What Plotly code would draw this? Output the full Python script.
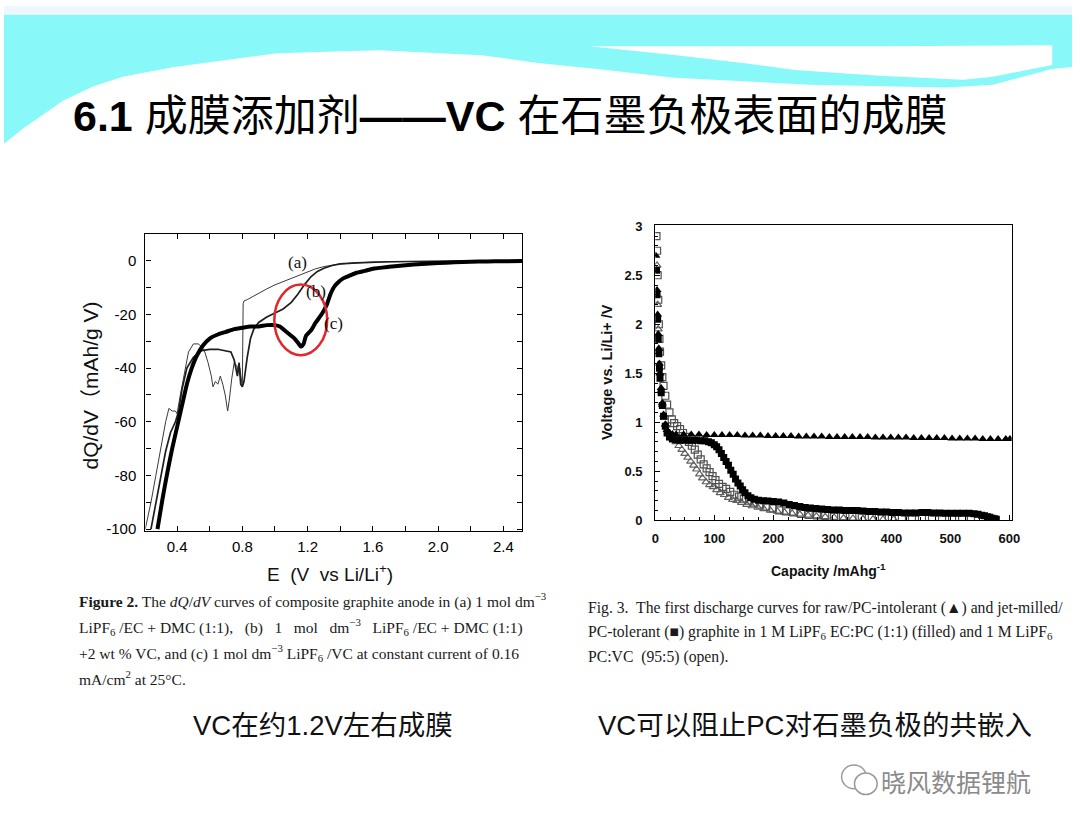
import plotly.graph_objects as go

W, H = 1080, 835

# ---------------- Left chart: dQ/dV curves ----------------
a_x = [0.205, 0.24, 0.27, 0.30, 0.33, 0.35, 0.37, 0.39, 0.40, 0.42, 0.44, 0.47, 0.50, 0.53,
       0.55, 0.57, 0.59, 0.61, 0.62, 0.635, 0.65, 0.665, 0.68, 0.695, 0.71, 0.72, 0.735,
       0.75, 0.765, 0.775, 0.785, 0.795, 0.80, 0.805, 0.81, 0.83, 0.86, 0.90, 0.95, 1.00,
       1.05, 1.10, 1.15, 1.20, 1.25, 1.30, 1.35, 1.40, 1.50, 1.60, 1.80, 2.00, 2.20, 2.52]
a_y = [-100, -90, -80, -70, -60, -55, -56, -56, -57, -50, -43, -34, -31, -31,
       -32, -34, -38, -43, -47, -45, -46, -43, -46, -50, -56, -52, -44,
       -38, -39, -41, -40, -44, -47, -16, -15, -14.5, -13.5, -12, -10.5, -9,
       -7.8, -6.5, -5.2, -4, -3, -2.2, -1.6, -1.2, -0.8, -0.5, -0.3, -0.2, -0.1, 0]

b_x = [0.24, 0.27, 0.30, 0.33, 0.36, 0.39, 0.41, 0.43, 0.46, 0.50, 0.55, 0.60, 0.65, 0.70,
       0.73, 0.75, 0.77, 0.78, 0.79, 0.80, 0.81, 0.83, 0.85, 0.87, 0.90, 0.95, 1.00, 1.05,
       1.10, 1.14, 1.18, 1.22, 1.26, 1.30, 1.35, 1.40, 1.50, 1.70, 2.00, 2.52]
b_y = [-100, -90, -80, -71, -64, -60, -56, -48, -40, -36, -33.5, -33, -33, -33.5,
       -34, -37, -43, -38, -46, -47, -45, -36, -29, -25.5, -23, -21, -19.5, -18,
       -15.5, -12.5, -9, -6, -4, -2.8, -1.8, -1.2, -0.8, -0.4, -0.2, 0]

c_x = [0.28, 0.31, 0.34, 0.37, 0.40, 0.43, 0.46, 0.49, 0.52, 0.56, 0.60, 0.65, 0.70, 0.75,
       0.80, 0.85, 0.90, 0.95, 1.00, 1.03, 1.06, 1.09, 1.12, 1.14, 1.16, 1.175, 1.19, 1.22,
       1.25, 1.28, 1.30, 1.32, 1.34, 1.36, 1.38, 1.42, 1.46, 1.50, 1.55, 1.60, 1.70, 1.80,
       1.90, 2.00, 2.10, 2.20, 2.30, 2.40, 2.52]
c_y = [-100, -89, -79, -70, -62, -54, -46, -40, -35.5, -31.5, -29, -27.5, -26.5, -25.5,
       -25, -24.5, -24.5, -24, -24, -24.5, -26, -27.5, -29, -30.5, -32, -31, -28, -26,
       -23, -20.5, -18.5, -16, -12.5, -10, -8.5, -6.5, -5.5, -4.5, -3.8, -3, -2.3, -1.7,
       -1.2, -0.9, -0.6, -0.4, -0.3, -0.2, -0.1]

left_xticks = [0.2, 0.4, 0.6, 0.8, 1.0, 1.2, 1.4, 1.6, 1.8, 2.0, 2.2, 2.4]
left_xtext = ["", "0.4", "", "0.8", "", "1.2", "", "1.6", "", "2.0", "", "2.4"]
left_yticks = [0, -10, -20, -30, -40, -50, -60, -70, -80, -90, -100]
left_ytext = ["0", "", "-20", "", "-40", "", "-60", "", "-80", "", "-100"]

curve_labels = ["(a)", "(b)", "(c)"]
curve_label_x = [1.14, 1.25, 1.36]
curve_label_y = [-0.5, -11.3, -23.5]

# ---------------- Right chart: first discharge curves ----------------
tri_f_x = [1, 2, 3, 4, 5, 6, 7, 8, 10, 12, 14, 17, 20, 24, 29,
           35, 48, 61, 74, 87, 100, 113, 126, 139, 152,
           165, 178, 191, 204, 217, 230, 243, 256, 269, 282,
           295, 308, 321, 334, 347, 360, 373, 386, 399, 412,
           425, 438, 451, 464, 477, 490, 503, 516, 529, 542,
           555, 568, 581, 594, 601]
tri_f_y = [2.7, 2.55, 2.35, 2.1, 1.9, 1.75, 1.6, 1.5, 1.35, 1.2, 1.08, 0.98, 0.92, 0.89, 0.88,
           0.875, 0.875, 0.875, 0.875, 0.87, 0.87, 0.87, 0.87, 0.87, 0.865,
           0.865, 0.865, 0.86, 0.86, 0.86, 0.86, 0.855, 0.855, 0.855, 0.855,
           0.85, 0.85, 0.85, 0.85, 0.85, 0.85, 0.845, 0.845, 0.845, 0.845,
           0.845, 0.84, 0.84, 0.84, 0.84, 0.84, 0.835, 0.835, 0.835, 0.835,
           0.83, 0.83, 0.83, 0.83, 0.83]

sq_f_x = [2, 3, 4, 5, 6, 7, 8, 10, 12, 14, 17, 20, 24, 29, 35, 42, 49, 56, 63, 70,
          77, 84, 90, 95, 100, 104, 108, 112, 116, 120, 124, 128, 132, 136, 140, 144,
          148, 152, 157, 162, 168, 175, 183, 191, 200, 209, 218, 227, 236, 245, 254,
          263, 272, 282, 292, 302, 312, 322, 332, 342, 352, 362, 372, 382, 392, 402,
          412, 422, 432, 442, 452, 462, 472, 482, 492, 502, 512, 522, 532, 540, 547,
          553, 558, 563, 567, 571, 575, 578]
sq_f_y = [2.55, 2.3, 2.05, 1.85, 1.7, 1.55, 1.45, 1.3, 1.17, 1.06, 0.96, 0.89, 0.85, 0.83,
          0.82, 0.815, 0.815, 0.815, 0.815, 0.815,
          0.81, 0.81, 0.8, 0.79, 0.77, 0.75, 0.72, 0.68, 0.64, 0.6, 0.56, 0.51, 0.47, 0.42,
          0.38, 0.35,
          0.31, 0.28, 0.25, 0.23, 0.215, 0.205, 0.2, 0.195, 0.19, 0.185, 0.175, 0.16, 0.15,
          0.14, 0.13,
          0.125, 0.12, 0.115, 0.11, 0.105, 0.105, 0.1, 0.1, 0.1, 0.095, 0.09, 0.09, 0.085,
          0.085, 0.08,
          0.08, 0.075, 0.075, 0.075, 0.08, 0.08, 0.075, 0.075, 0.07, 0.07, 0.07, 0.07, 0.07,
          0.065, 0.06,
          0.05, 0.045, 0.035, 0.03, 0.02, 0.015, 0.01]

sq_o_x = [2, 3, 4, 5, 6, 7, 8, 10, 12, 14, 17, 20, 24, 28, 32, 37, 42, 47, 52, 57,
          62, 67, 72, 77, 82, 87, 92, 97, 102, 108, 114, 120, 127, 134, 142, 150,
          159, 168, 178, 188, 199, 210, 222, 234, 247, 260, 274, 288, 303, 318, 334,
          350, 367, 384, 401, 418, 435, 452, 469, 486, 503, 520, 535]
sq_o_y = [2.9, 2.75, 2.5, 2.25, 2.0, 1.85, 1.72, 1.58, 1.46, 1.37, 1.27, 1.18, 1.1, 1.03,
          0.99, 0.96, 0.93, 0.89, 0.85, 0.8,
          0.76, 0.72, 0.67, 0.62, 0.57, 0.53, 0.49, 0.45, 0.41, 0.37, 0.34, 0.32, 0.29,
          0.26, 0.24, 0.22,
          0.2, 0.18, 0.16, 0.14, 0.12, 0.1, 0.09, 0.08, 0.065, 0.055, 0.05, 0.045, 0.04,
          0.037, 0.033,
          0.028, 0.024, 0.02, 0.018, 0.016, 0.015, 0.013, 0.012, 0.012, 0.011, 0.01, 0.01]

tri_o_x = [3, 4, 5, 6, 8, 10, 12, 15, 18, 22, 26, 30, 35, 40, 45, 50, 55, 60, 65, 70,
           75, 80, 86, 92, 98, 104, 110, 117, 124, 131, 138, 146, 155, 164, 174, 184,
           195, 207, 219, 232, 245, 259, 273, 288, 303, 319, 335, 352, 369, 386, 404]
tri_o_y = [2.6, 2.2, 1.95, 1.75, 1.5, 1.32, 1.18, 1.05, 0.97, 0.9, 0.86, 0.83, 0.8, 0.76,
           0.72, 0.68, 0.64, 0.6, 0.56, 0.52,
           0.47, 0.43, 0.39, 0.36, 0.34, 0.31, 0.28, 0.26, 0.23, 0.21, 0.2, 0.18, 0.16,
           0.145, 0.13, 0.115,
           0.1, 0.09, 0.08, 0.07, 0.06, 0.05, 0.042, 0.035, 0.028, 0.022, 0.018, 0.015,
           0.012, 0.01, 0.01]

right_xticks = [0, 100, 200, 300, 400, 500, 600]
right_yticks = [0, 0.5, 1, 1.5, 2, 2.5, 3]

for xs, ys in [(a_x, a_y), (b_x, b_y), (c_x, c_y), (tri_f_x, tri_f_y), (sq_f_x, sq_f_y),
               (sq_o_x, sq_o_y), (tri_o_x, tri_o_y)]:
    assert len(xs) == len(ys), (len(xs), len(ys))


def PX(x):
    return x / W


def PY(y):
    return 1 - y / H


def path_from(points):
    s = "M %.5f %.5f" % (PX(points[0][0]), PY(points[0][1]))
    for x, y in points[1:]:
        s += " L %.5f %.5f" % (PX(x), PY(y))
    return s + " Z"


fig = go.Figure()

# left chart traces
fig.add_trace(go.Scatter(x=a_x, y=a_y, mode="lines", line=dict(color="#3a3a3a", width=1.0),
                         xaxis="x", yaxis="y", showlegend=False))
fig.add_trace(go.Scatter(x=b_x, y=b_y, mode="lines", line=dict(color="#1e1e1e", width=1.7),
                         xaxis="x", yaxis="y", showlegend=False))
fig.add_trace(go.Scatter(x=c_x, y=c_y, mode="lines",
                         line=dict(color="#000000", width=4, shape="spline", smoothing=0.5),
                         xaxis="x", yaxis="y", showlegend=False))

# right chart traces
fig.add_trace(go.Scatter(x=tri_o_x, y=tri_o_y, mode="markers",
                         marker=dict(symbol="triangle-up-open", size=7, color="#606060",
                                     line=dict(width=1.2, color="#606060")),
                         xaxis="x2", yaxis="y2", showlegend=False))
fig.add_trace(go.Scatter(x=sq_o_x, y=sq_o_y, mode="markers",
                         marker=dict(symbol="square-open", size=7, color="#505050",
                                     line=dict(width=1.2, color="#505050")),
                         xaxis="x2", yaxis="y2", showlegend=False))
fig.add_trace(go.Scatter(x=sq_f_x, y=sq_f_y, mode="markers",
                         marker=dict(symbol="square", size=7, color="#000000"),
                         xaxis="x2", yaxis="y2", showlegend=False))
fig.add_trace(go.Scatter(x=tri_f_x, y=tri_f_y, mode="markers",
                         marker=dict(symbol="triangle-up", size=8, color="#000000"),
                         xaxis="x2", yaxis="y2", showlegend=False))

sans = "Liberation Sans, Arial, Noto Sans CJK SC, sans-serif"
serif = "Liberation Serif, Times New Roman, DejaVu Serif, serif"
cjk = "Liberation Sans, Arial, Noto Sans CJK SC, sans-serif"

axis_common = dict(showgrid=False, zeroline=False, showline=True, linecolor="#000000",
                   linewidth=1.3, ticks="inside", tickcolor="#000000")

fig.update_layout(
    width=W, height=H, autosize=False,
    margin=dict(l=0, r=0, t=0, b=0),
    paper_bgcolor="#ffffff", plot_bgcolor="rgba(0,0,0,0)",
    xaxis=dict(domain=[PX(143), PX(524)], range=[0.206, 2.515], anchor="y",
               tickvals=left_xticks, ticktext=left_xtext, ticklen=5, mirror="ticks",
               ticklabelstandoff=2,
               tickfont=dict(family=sans, size=15, color="#000000"), **axis_common),
    yaxis=dict(domain=[PY(534), PY(232)], range=[-100.7, 9.9], anchor="x",
               tickvals=left_yticks, ticktext=left_ytext, ticklen=5, mirror="ticks",
               ticklabelstandoff=5,
               tickfont=dict(family=sans, size=15, color="#000000"), **axis_common),
    xaxis2=dict(domain=[PX(658.6), PX(1019)], range=[0, 604], anchor="y2",
                tickvals=right_xticks, ticklen=5, mirror=True, ticklabelstandoff=6,
                minor=dict(ticks="inside", dtick=25, ticklen=3, tickcolor="#000000"),
                tickfont=dict(family=sans, size=13, color="#111111", weight="bold"),
                **axis_common),
    yaxis2=dict(domain=[PY(523), PY(223)], range=[0, 3.01], anchor="x2",
                tickvals=right_yticks, ticklen=5, mirror=True, ticklabelstandoff=9,
                minor=dict(ticks="inside", dtick=0.1, ticklen=3, tickcolor="#000000"),
                tickfont=dict(family=sans, size=13, color="#111111", weight="bold"),
                **axis_common),
)

shapes = []
# header decoration: light strip, cyan wave, white swoosh
shapes.append(dict(type="rect", xref="paper", yref="paper", x0=0, x1=1, y0=PY(9), y1=1,
                   fillcolor="#eef8fc", line=dict(width=0), layer="below"))
cyan_pts = [(0, 9), (1080, 9), (1080, 62), (1060, 64), (1000, 80), (953, 83), (815, 80),
            (678, 73), (600, 64), (540, 58), (483, 50), (379, 45), (276, 48), (172, 62),
            (120, 72), (90, 82), (60, 96), (40, 110), (20, 124), (0, 140)]
shapes.append(dict(type="path", xref="paper", yref="paper", path=path_from(cyan_pts),
                   fillcolor="#88f8f8", line=dict(width=0), layer="below"))
swoosh_pts = [(592, 41), (885, 41), (1060, 40), (1060, 60), (1000, 72), (970, 75),
              (885, 71), (800, 65), (747, 58), (680, 50)]
shapes.append(dict(type="path", xref="paper", yref="paper", path=path_from(swoosh_pts),
                   fillcolor="#ffffff", line=dict(width=0), layer="below"))
# red highlight ellipse around the VC reduction peak
shapes.append(dict(type="circle", xref="x", yref="y", x0=0.996, x1=1.32, y0=-35.2, y1=-8.9,
                   line=dict(color="#e3262b", width=2.5), fillcolor="rgba(0,0,0,0)"))
# watermark icon (two bubbles)
shapes.append(dict(type="circle", xref="paper", yref="paper", x0=PX(847), x1=PX(872),
                   y0=PY(796), y1=PY(772), line=dict(color="#9a9a9a", width=1.5)))
shapes.append(dict(type="circle", xref="paper", yref="paper", x0=PX(860), x1=PX(883),
                   y0=PY(802), y1=PY(780), line=dict(color="#9a9a9a", width=1.5),
                   fillcolor="#ffffff"))
fig.update_layout(shapes=shapes)

ann = []
ann.append(dict(text="<b>6.1</b> 成膜添加剂<b>——VC</b> 在石墨负极表面的成膜", x=PX(68), y=PY(112),
                xref="paper", yref="paper", xanchor="left", yanchor="middle", showarrow=False,
                font=dict(family=cjk, size=43, color="#000000")))
# left axis titles
ann.append(dict(text="dQ/dV（mAh/g V)", x=PX(88), y=PY(386), xref="paper", yref="paper",
                textangle=-90, showarrow=False, xanchor="center", yanchor="middle",
                font=dict(family=cjk, size=21, color="#111111")))
ann.append(dict(text="E  (V  vs Li/Li<sup>+</sup>)", x=PX(330), y=PY(577), xref="paper",
                yref="paper", showarrow=False, xanchor="center", yanchor="middle",
                font=dict(family=sans, size=19, color="#111111")))
# curve labels
for t, lx, ly in zip(curve_labels, curve_label_x, curve_label_y):
    ann.append(dict(text=t, x=lx, y=ly, xref="x", yref="y", showarrow=False,
                    xanchor="center", yanchor="middle",
                    font=dict(family=serif, size=17, color="#111111")))
# right axis titles
ann.append(dict(text="<b>Voltage vs. Li/Li+ /V</b>", x=PX(610), y=PY(372), xref="paper",
                yref="paper", textangle=-90, showarrow=False, xanchor="center",
                yanchor="middle", font=dict(family=sans, size=14.5, color="#111111")))
ann.append(dict(text="<b>Capacity /mAhg<sup>-1</sup></b>", x=PX(834), y=PY(574),
                xref="paper", yref="paper", showarrow=False, xanchor="center",
                yanchor="middle", font=dict(family=sans, size=14, color="#111111")))

# figure captions
left_caption = [
    "<b>Figure 2.</b> The <i>dQ</i>/<i>dV</i> curves of composite graphite anode in (a) 1 mol dm<sup>−3</sup>",
    "LiPF<sub>6</sub> /EC + DMC (1:1),   (b)   1   mol   dm<sup>−3</sup>   LiPF<sub>6</sub> /EC + DMC (1:1)",
    "+2 wt % VC, and (c) 1 mol dm<sup>−3</sup> LiPF<sub>6</sub> /VC at constant current of 0.16",
    "mA/cm<sup>2</sup> at 25°C.",
]
left_caption_y = [605, 632, 658, 683]
for t, yy in zip(left_caption, left_caption_y):
    ann.append(dict(text=t, x=PX(74), y=PY(yy), xref="paper", yref="paper", showarrow=False,
                    xanchor="left", yanchor="middle",
                    font=dict(family=serif, size=15.5, color="#1a1a1a")))
right_caption = [
    "Fig. 3.  The first discharge curves for raw/PC-intolerant (▲) and jet-milled/",
    "PC-tolerant (■) graphite in 1 M LiPF<sub>6</sub> EC:PC (1:1) (filled) and 1 M LiPF<sub>6</sub>",
    "PC:VC  (95:5) (open).",
]
right_caption_y = [612, 637, 662]
for t, yy in zip(right_caption, right_caption_y):
    ann.append(dict(text=t, x=PX(589), y=PY(yy), xref="paper", yref="paper", showarrow=False,
                    xanchor="left", yanchor="middle",
                    font=dict(family=serif, size=15.7, color="#1a1a1a")))

# slide notes
ann.append(dict(text="VC在约1.2V左右成膜", x=PX(189), y=PY(732), xref="paper", yref="paper",
                showarrow=False, xanchor="left", yanchor="middle",
                font=dict(family=cjk, size=27.5, color="#111111")))
ann.append(dict(text="VC可以阻止PC对石墨负极的共嵌入", x=PX(599), y=PY(732), xref="paper",
                yref="paper", showarrow=False, xanchor="left", yanchor="middle",
                font=dict(family=cjk, size=27.5, color="#111111")))
ann.append(dict(text="晓风数据锂航", x=PX(885), y=PY(788), xref="paper", yref="paper",
                showarrow=False, xanchor="left", yanchor="middle",
                font=dict(family="Noto Sans CJK SC, sans-serif", size=25, color="#8a8a8a")))

fig.update_layout(annotations=ann)

fig.write_html("out.html",
               config={"displayModeBar": False, "responsive": False},
               post_script="document.body.style.margin='0';document.body.style.padding='0';"
                           "document.body.style.overflow='hidden';")
